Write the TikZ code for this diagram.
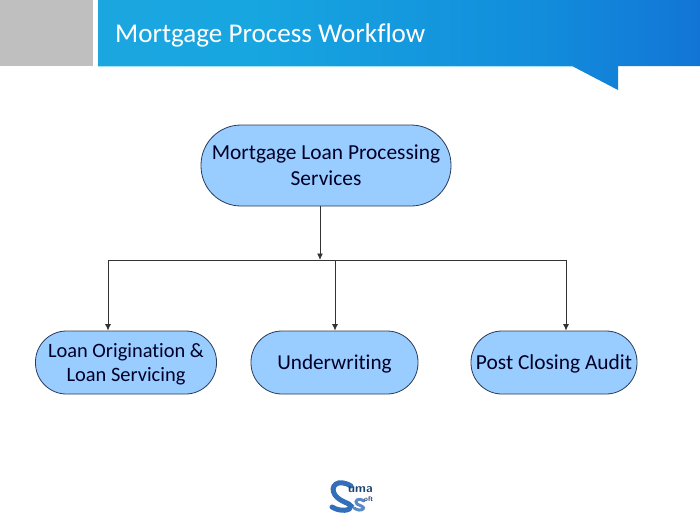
\documentclass[tikz,border=0pt]{standalone}
\usepackage{fontspec}
\setmainfont[Ligatures=CommonOff]{Carlito}
\usepackage{xcolor}
\usetikzlibrary{arrows.meta, positioning}

\definecolor{boxBlue}{RGB}{153,204,255}
\definecolor{boxLine}{RGB}{40,60,90}
\definecolor{logoBlue}{RGB}{50,110,185}

\pgfdeclarehorizontalshading{headShade}{100bp}{
  rgb(0bp)=(0.15,0.65,0.87);
  rgb(38bp)=(0.09,0.65,0.88);
  rgb(62bp)=(0.07,0.55,0.86);
  rgb(82bp)=(0.07,0.41,0.83);
  rgb(100bp)=(0.10,0.46,0.84)}

\tikzset{
  flowBox/.style = {shape=rectangle, fill=boxBlue, draw=boxLine, thick, align=center, text=black!85!blue, font=\fontsize{21.4}{26}\selectfont},
  lowBox/.style = {flowBox, minimum height=63pt, rounded corners=31pt, text depth=0pt, font=\fontsize{21.2}{24}\selectfont},
  flowLine/.style = {draw=black!80, line width=0.9pt},
  flowArrow/.style = {flowLine, -{Latex[length=6.5pt, width=6pt]}},
}

\begin{document}
\begin{tikzpicture}[x=1pt, y=-1pt]

\useasboundingbox (0,0) rectangle (700,525);
\fill[white] (0,0) rectangle (700,525);

% header band
\fill[gray!50] (0,0) rectangle (93,66);
\path[shading=headShade] (98,0) -- (700,0) -- (700,66) -- (618,66) -- (618,90) -- (572,66) -- (98,66) -- cycle;
\draw[cyan!35, line width=0.8pt] (98,66.5) -- (572,66.5);
\node (title) [anchor=west, inner sep=0pt, text=white, font=\fontsize{27.1}{30}\selectfont] at (115,35) {Mortgage Process Workflow};

% boxes
\node (services) [flowBox, minimum width=250pt, minimum height=81pt, rounded corners=40pt] at (326,165.5) {Mortgage Loan Processing\\Services};
\node (origination) [lowBox, minimum width=181pt, font=\fontsize{20.4}{24}\selectfont] at (126,362.5) {Loan Origination \&\\Loan Servicing};
\node (underwriting) [lowBox, minimum width=167pt] at (334.5,362.5) {Underwriting};
\node (audit) [lowBox, minimum width=166pt, font=\fontsize{21.4}{24}\selectfont] at (554,362.5) {Post Closing Audit};

% bus
\coordinate (busIn) at (320,260);
\coordinate (busLeft) at (108,260);
\coordinate (busMid) at (335,260);
\coordinate (busRight) at (566,260);

\draw[flowArrow] (services.south -| busIn) -- (busIn);
\draw[flowLine] (busLeft) -- (busRight);
\draw[flowArrow] (busLeft) -- (busLeft |- origination.north);
\draw[flowArrow] (busMid) -- (busMid |- underwriting.north);
\draw[flowArrow] (busRight) -- (busRight |- audit.north);

% logo
\draw[logoBlue, line width=5pt, line cap=round] (351,486) .. controls (338,478) and (329,486) .. (335,495) .. controls (340,502) and (350,503) .. (351,506) .. controls (351,511) and (340,512) .. (332,507);
\draw[logoBlue!80, line width=3pt, line cap=round] (364,501) .. controls (358,497) and (354,501) .. (357,504) .. controls (361,506) and (365,507) .. (363,509) .. controls (361,511) and (357,510) .. (354,508);
\node (sumaText) [anchor=west, inner sep=0pt, text=logoBlue!60!black, font=\sffamily\bfseries\fontsize{12.5}{12}\selectfont] at (348,490) {uma};
\node (softText) [anchor=west, inner sep=0pt, text=logoBlue!60!black, font=\sffamily\bfseries\fontsize{7}{7}\selectfont] at (364,499.5) {oft};

\end{tikzpicture}
\end{document}
